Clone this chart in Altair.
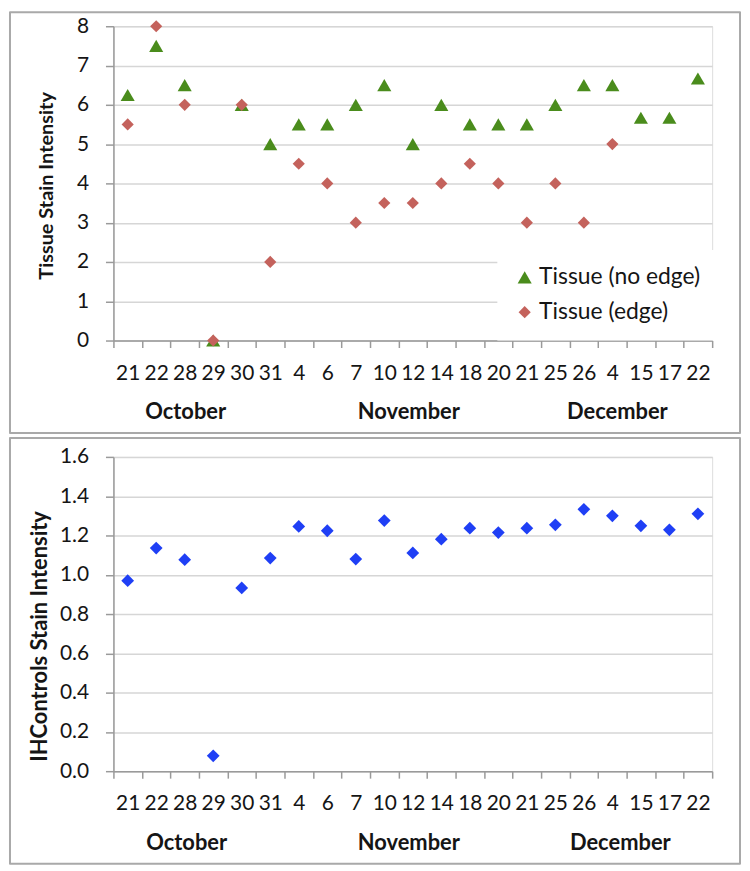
import altair as alt
import pandas as pd

# ---- data ----
days = ["21", "22", "28", "29", "30", "31", "4", "6", "7", "10", "12",
        "14", "18", "20", "21", "25", "26", "4", "15", "17", "22"]
no_edge = [6.25, 7.5, 6.5, 0, 6, 5, 5.5, 5.5, 6, 6.5, 5,
           6, 5.5, 5.5, 5.5, 6, 6.5, 6.5, 5.67, 5.67, 6.67]
edge = [5.5, 8, 6, 0, 6, 2, 4.5, 4, 3, 3.5, 3.5,
        4, 4.5, 4, 3, 4, 3, 5, None, None, None]
ihc = [0.97, 1.136, 1.077, 0.078, 0.933, 1.085, 1.246, 1.224, 1.080, 1.276, 1.111,
       1.181, 1.237, 1.215, 1.237, 1.254, 1.333, 1.300, 1.249, 1.229, 1.310]
months = ["October", "November", "December"]
month_anchor = [2, 10, 17]          # category index the month label sits under
series_names = ["Tissue (no edge)", "Tissue (edge)"]

FONT = "Lato"
W, H = 602, 316
GRID = "#d6d6d6"
AXC = "#9a9a9a"
BORDER = "#a9a9a9"
TXT = "#151515"

rows = []
for i, d in enumerate(days):
    rows.append({"idx": i, "series": series_names[0], "value": no_edge[i]})
    if edge[i] is not None:
        rows.append({"idx": i, "series": series_names[1], "value": edge[i]})
tissue_df = pd.DataFrame(rows)
ihc_df = pd.DataFrame({"idx": list(range(len(days))), "value": ihc})
month_df = pd.DataFrame({"month": months, "idx": month_anchor})
one = pd.DataFrame({"a": [0]})

label_expr = "[" + ",".join("'%s'" % d for d in days) + "][datum.value]"


def xenc():
    return alt.X(
        "idx:O",
        scale=alt.Scale(type="band", paddingInner=0, paddingOuter=0,
                        domain=list(range(len(days)))),
        axis=alt.Axis(
            title=None, labelExpr=label_expr, labelAngle=0, grid=False,
            tickBand="extent", tickSize=7, tickColor=AXC, tickWidth=1.5,
            domainColor=AXC, domainWidth=1.5, labelFont=FONT, labelFontSize=21,
            labelColor=TXT, labelPadding=15, labelBaseline="top",
        ),
    )


def border(top_off):
    return alt.Chart(one).mark_rect(
        fill="transparent", stroke=BORDER, strokeWidth=2, strokeJoin="round"
    ).encode(
        x=alt.value(-104), x2=alt.value(W + 28),
        y=alt.value(top_off), y2=alt.value(H + 93),
    )


def month_layer(src_df, dxs):
    layers = []
    for m in months:
        layers.append(
            alt.Chart(src_df[src_df["month"] == m]).mark_text(
                font=FONT, fontSize=22, fontWeight="bold", color=TXT,
                baseline="middle", dx=dxs[m]
            ).encode(x=xenc(), y=alt.value(H + 72), text="month:N")
        )
    return layers


# ---- top panel ----
top_points = alt.Chart(tissue_df).mark_point(filled=True, opacity=1).encode(
    x=xenc(),
    y=alt.Y(
        "value:Q",
        scale=alt.Scale(domain=[0, 8], nice=False, zero=True),
        axis=alt.Axis(
            values=list(range(0, 9)), title="Tissue Stain Intensity",
            titleFont=FONT, titleFontSize=20, titleFontWeight="bold", titleColor=TXT,
            titleAngle=270, titleBaseline="middle", titleAlign="center",
            titleX=-67, titleY=H / 2 + 2,
            gridColor=GRID, gridWidth=1.5, domainColor=AXC, domainWidth=1.5,
            tickColor=AXC, tickWidth=1.5, tickSize=8,
            labelFont=FONT, labelFontSize=21, labelColor=TXT, labelPadding=17,
        ),
    ),
    color=alt.Color(
        "series:N",
        scale=alt.Scale(domain=series_names, range=["#4a8c1c", "#c4625c"]),
        legend=alt.Legend(
            title=None, orient="none", legendX=386, legendY=225,
            fillColor="white", padding=16, labelFont=FONT, labelFontSize=23,
            labelColor=TXT, symbolSize=160, rowPadding=11, labelOffset=3,
            symbolStrokeWidth=0, labelLimit=400,
        ),
    ),
    shape=alt.Shape(
        "series:N",
        scale=alt.Scale(domain=series_names, range=["triangle-up", "diamond"]),
    ),
    size=alt.Size(
        "series:N",
        scale=alt.Scale(domain=series_names, range=[200, 150]),
        legend=None,
    ),
)

top = alt.layer(
    border(-14), top_points,
    *month_layer(month_df, {"October": 1, "November": -4, "December": 5}),
).properties(width=W, height=H)

# ---- bottom panel ----
bottom_points = alt.Chart(ihc_df).mark_point(
    filled=True, opacity=1, shape="diamond", size=165, color="#1f3ff5"
).encode(
    x=xenc(),
    y=alt.Y(
        "value:Q",
        scale=alt.Scale(domain=[0, 1.6], nice=False, zero=True),
        axis=alt.Axis(
            values=[0, 0.2, 0.4, 0.6, 0.8, 1.0, 1.2, 1.4, 1.6], format=".1f",
            title="IHControls Stain Intensity",
            titleFont=FONT, titleFontSize=22, titleFontWeight="bold", titleColor=TXT,
            titleAngle=270, titleBaseline="middle", titleAlign="center",
            titleX=-74, titleY=180,
            gridColor=GRID, gridWidth=1.5, domainColor=AXC, domainWidth=1.5,
            tickColor=AXC, tickWidth=1.5, tickSize=8,
            labelFont=FONT, labelFontSize=21, labelColor=TXT, labelPadding=17,
        ),
    ),
)

bottom = alt.layer(
    border(-19), bottom_points,
    *month_layer(month_df, {"October": 2, "November": -4, "December": 8}),
).properties(width=W, height=H)

chart = alt.vconcat(top, bottom, spacing=1).configure_view(stroke=None).configure(
    background="white"
).properties(padding=0)

chart.save("out.html", embed_options={"renderer": "svg", "actions": False})
